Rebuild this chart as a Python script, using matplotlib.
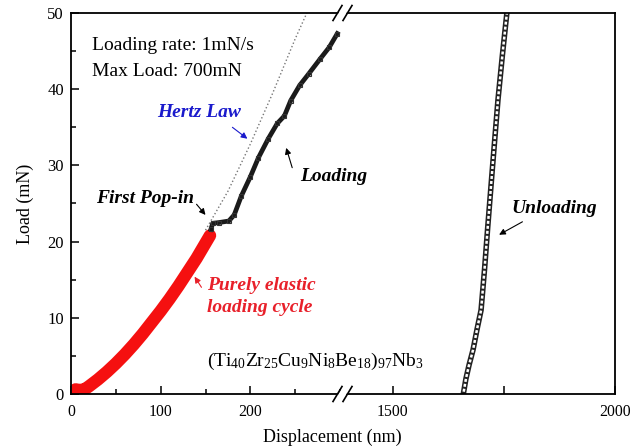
"""Nanoindentation load-displacement curve with a broken displacement axis."""

import matplotlib

matplotlib.use("Agg")
import matplotlib.pyplot as plt
from matplotlib.lines import Line2D
from matplotlib.patches import Polygon
from matplotlib.ticker import MultipleLocator

plt.rcParams["font.family"] = ["Liberation Serif", "DejaVu Serif"]
plt.rcParams["mathtext.fontset"] = "custom"
plt.rcParams["mathtext.rm"] = "Liberation Serif"

# purely elastic loading (red)
elastic_h = [5, 10, 15, 20, 30, 40, 50, 60, 70, 80, 90, 100, 110, 120, 130, 140, 150, 155]
elastic_p = [0.6, 0.5, 0.6, 1.0, 1.9, 2.9, 4.0, 5.2, 6.5, 7.9, 9.4, 10.9, 12.5, 14.2, 16.0, 17.8, 19.8, 20.8]

# Hertz fit (dotted)
hertz_h = [150, 175, 200, 225, 250, 263]
hertz_p = [21.5, 26.6, 32.8, 39.5, 46.6, 50.0]

# loading after the first pop-in
load_h = [156, 158, 165, 176, 182, 190, 200, 209, 220, 230, 238, 245, 255, 265, 278, 288, 297]
load_p = [21.6, 22.4, 22.5, 22.7, 23.5, 26.0, 28.5, 31.0, 33.5, 35.5, 36.5, 38.5, 40.5, 42.0, 44.0, 45.5, 47.3]

# unloading
unload_h = [1660, 1665, 1672, 1681, 1690, 1699, 1707, 1714, 1725, 1737, 1747, 1757]
unload_p = [0.3, 2.0, 3.8, 5.8, 8.5, 11.0, 16.5, 21.9, 30.0, 38.6, 44.5, 50.0]

W, H = 633, 448
fig = plt.figure(figsize=(W / 100, H / 100), dpi=100)

x0, xb, x1 = 71, 340, 615
y0, y1 = 394, 13
bottom = 1 - y0 / H
height = (y0 - y1) / H
ax1 = fig.add_axes([x0 / W, bottom, (xb - x0) / W, height])
ax2 = fig.add_axes([xb / W, bottom, (x1 - xb) / W, height])
ax2.patch.set_visible(False)

ax1.set_xlim(0, 300)
ax2.set_xlim(1382, 2000)
for ax in (ax1, ax2):
    ax.set_ylim(0, 50)
    for s in ax.spines.values():
        s.set_linewidth(1.3)
ax1.spines["right"].set_visible(False)
ax2.spines["left"].set_visible(False)

ax1.xaxis.set_major_locator(MultipleLocator(100))
ax1.xaxis.set_minor_locator(MultipleLocator(50))
ax1.yaxis.set_major_locator(MultipleLocator(10))
ax1.yaxis.set_minor_locator(MultipleLocator(5))
ax1.tick_params(which="both", direction="in", top=False, right=False)
ax1.tick_params(which="major", length=6, width=1.1)
ax1.tick_params(which="minor", length=3.5, width=1.1)
ax1.tick_params(axis="x", labelsize=11.3, pad=7)
ax1.tick_params(axis="y", labelsize=12, pad=5)
ax1.set_xticks([0, 100, 200])

ax2.set_xticks([1500, 2000])
ax2.set_xticks([1750], minor=True)
ax2.set_yticks([])
ax2.tick_params(which="both", direction="in", top=False, width=1.1)
ax2.tick_params(which="major", length=6, labelsize=11.3, pad=7)
ax2.tick_params(which="minor", length=6)

ax1.set_ylabel("Load (mN)", fontsize=13, labelpad=10)
fig.text(332 / W, 1 - 437 / H, "Displacement (nm)", fontsize=13, ha="center", va="center")

# curves
ax1.plot(hertz_h, hertz_p, ls=":", color="#777777", lw=1.0)
ax1.plot(elastic_h, elastic_p, color="#f51010", lw=9,
         solid_capstyle="round", solid_joinstyle="round")
ax1.plot(load_h, load_p, color="#1a1a1a", lw=3.4, marker="s", ms=3.5,
         mfc="none", mec="#333333", mew=0.8, clip_on=False)
ax2.plot(unload_h, unload_p, color="#222222", lw=4.0)
ax2.plot(unload_h, unload_p, color="white", lw=1.8, dashes=(1.2, 0.8))

# text annotations
ax1.text(23, 45.8, "Loading rate: 1mN/s", fontsize=14, va="center")
ax1.text(23, 42.3, "Max Load: 700mN", fontsize=14, va="center")

arrow = dict(arrowstyle="-|>", color="black", lw=0.8, mutation_scale=9,
             shrinkA=0, shrinkB=0)
bi = dict(fontsize=14, fontweight="bold", fontstyle="italic", ha="center", va="center")

ax1.annotate("", xy=(196.7, 33.5), xytext=(180, 35.0),
             arrowprops=dict(arrow, color="#1a1acc"))
ax1.text(143, 36.9, "Hertz Law", color="#1a1acc", **bi)

ax1.annotate("", xy=(150, 23.5), xytext=(140, 24.9), arrowprops=arrow)
ax1.text(82, 25.7, "First Pop-in", **bi)

ax1.annotate("", xy=(240, 32.3), xytext=(246.7, 29.7), arrowprops=arrow)
ax1.text(293, 28.5, "Loading", **bi)

ax2.annotate("", xy=(1739.5, 20.9), xytext=(1792, 22.6), arrowprops=arrow)
ax2.text(1864, 24.4, "Unloading", **bi)

ax1.annotate("", xy=(137.8, 15.4), xytext=(145.5, 14.0),
             arrowprops=dict(arrow, color="#e8202a"))
ax1.text(152, 14.3, "Purely elastic", color="#e8202a",
         **dict(bi, ha="left"))
ax1.text(152, 11.3, "loading cycle", color="#e8202a",
         **dict(bi, ha="left"))

ax1.text(273, 4.3, r"$\mathrm{(Ti_{40}Zr_{25}Cu_{9}Ni_{8}Be_{18})_{97}Nb_{3}}$",
         fontsize=14, ha="center", va="center")

# axis break marks
for yp in (y1, y0):
    yf = 1 - yp / H
    dy = 7.5 / H
    xa, xc = 333 / W, 342 / W
    gap = Polygon([(xa + 9 / W, yf - dy), (xc + 9 / W, yf + dy),
                   (xc + 1 / W, yf + dy), (xa + 1 / W, yf - dy)],
                  closed=True, transform=fig.transFigure, fc="white",
                  ec="none", zorder=5)
    fig.add_artist(gap)
    for xs in (xa, xa + 10 / W):
        fig.add_artist(Line2D([xs, xs + 9 / W], [yf - dy, yf + dy],
                              transform=fig.transFigure, color="black",
                              lw=1.2, zorder=6))

fig.savefig("out.png", dpi=100)
